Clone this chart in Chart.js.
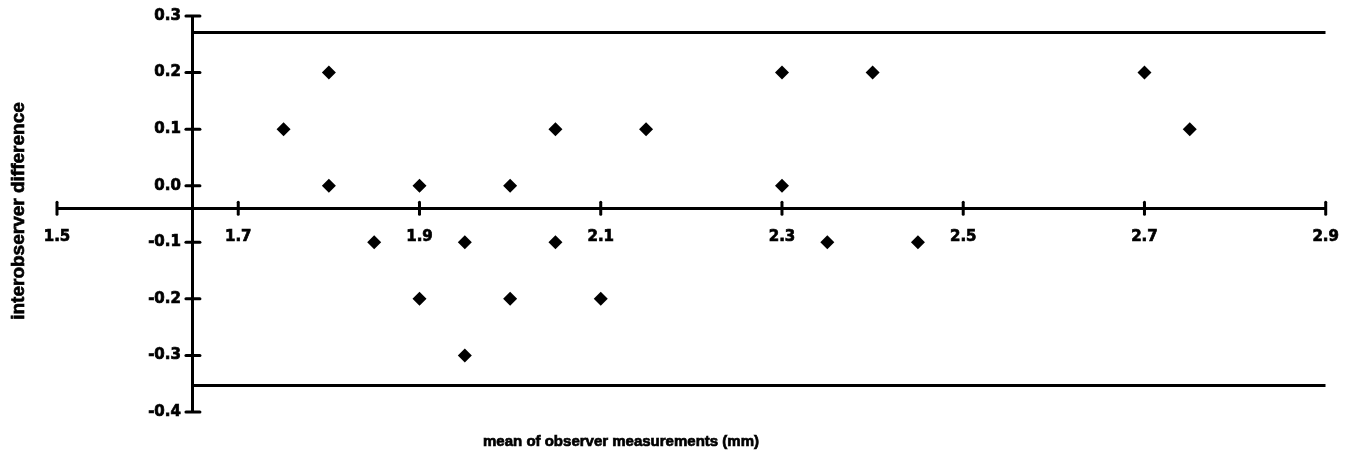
<!DOCTYPE html>
<html>
<head>
<meta charset="utf-8">
<script src="https://cdn.jsdelivr.net/npm/chart.js@4.4.1/dist/chart.umd.min.js"></script>
<style>
  html, body { margin: 0; padding: 0; background: #fff; }
  #wrap { width: 1359px; height: 462px; }
</style>
</head>
<body>
<div id="wrap"><canvas id="chart"></canvas></div>
<script>
// mean of the two observers (x) and their difference (y)
const meanVals = [1.75, 1.8, 1.8, 1.85, 1.9, 1.9, 1.95, 1.95, 2.0, 2.0, 2.05, 2.05, 2.1, 2.15, 2.3, 2.3, 2.35, 2.4, 2.45, 2.7, 2.75];
const diffVals = [0.1, 0.2, 0.0, -0.1, 0.0, -0.2, -0.1, -0.3, 0.0, -0.2, 0.1, -0.1, -0.2, 0.1, 0.2, 0.0, -0.1, 0.2, -0.1, 0.2, 0.1];

// limits of agreement
const limitX = [1.65, 2.9];
const upperLimit = [0.271, 0.271];
const lowerLimit = [-0.353, -0.353];

// axis ranges / crossing points
const xRange = [1.5, 2.9];
const yRange = [-0.4, 0.3];
const xStep = 0.2;
const yStep = 0.1;
const yAxisAtX = 1.65;
const xAxisAtY = -0.04;

const xTitle = "mean of observer measurements (mm)";
const yTitle = "interobserver difference";

const tickFont = { family: "DejaVu Sans", size: 15, weight: "bold" };

const points = meanVals.map((x, i) => ({ x, y: diffVals[i] }));
const upper = limitX.map((x, i) => ({ x, y: upperLimit[i] }));
const lower = limitX.map((x, i) => ({ x, y: lowerLimit[i] }));

const fmt = v => (Math.abs(v) < 1e-9 ? 0 : v).toFixed(1);

// crossing tick marks, y tick labels and axis titles
const axisExtras = {
  id: "axisExtras",
  afterDraw(chart) {
    const ctx = chart.ctx;
    const xs = chart.scales.x, ys = chart.scales.y;
    const xAxisPx = ys.getPixelForValue(xAxisAtY);
    const yAxisPx = xs.getPixelForValue(yAxisAtX);
    ctx.save();
    ctx.strokeStyle = "#000";
    ctx.lineWidth = 3;
    ctx.lineCap = "round";
    xs.ticks.forEach(t => {
      const px = xs.getPixelForValue(t.value);
      ctx.beginPath();
      ctx.moveTo(px, xAxisPx - 6);
      ctx.lineTo(px, xAxisPx + 6);
      ctx.stroke();
    });
    ys.ticks.forEach(t => {
      const py = ys.getPixelForValue(t.value);
      ctx.beginPath();
      ctx.moveTo(yAxisPx - 7, py);
      ctx.lineTo(yAxisPx + 7, py);
      ctx.stroke();
    });

    ctx.fillStyle = "#000";
    ctx.lineWidth = 0.7;
    ctx.lineCap = "butt";
    ctx.font = `${tickFont.weight} ${tickFont.size}px '${tickFont.family}'`;
    ctx.textAlign = "right";
    ctx.textBaseline = "middle";
    ys.ticks.forEach(t => {
      const py = ys.getPixelForValue(t.value);
      ctx.fillText(fmt(t.value), yAxisPx - 12, py);
      ctx.strokeText(fmt(t.value), yAxisPx - 12, py);
    });

    ctx.font = "bold 15px 'Liberation Sans'";
    ctx.textAlign = "center";
    ctx.fillText(xTitle, 621, 442);
    ctx.strokeText(xTitle, 621, 442);
    ctx.font = "bold 19px 'Liberation Sans'";
    ctx.translate(19, 211);
    ctx.rotate(-Math.PI / 2);
    ctx.fillText(yTitle, 0, 0);
    ctx.strokeText(yTitle, 0, 0);
    ctx.restore();
  }
};

new Chart(document.getElementById("chart"), {
  type: "scatter",
  data: {
    datasets: [
      {
        label: "difference",
        data: points,
        pointStyle: "rectRot",
        pointRadius: 7,
        backgroundColor: "#000",
        borderWidth: 0
      },
      {
        label: "upper limit",
        data: upper,
        showLine: true,
        pointRadius: 0,
        borderColor: "#000",
        borderWidth: 3
      },
      {
        label: "lower limit",
        data: lower,
        showLine: true,
        pointRadius: 0,
        borderColor: "#000",
        borderWidth: 3
      }
    ]
  },
  options: {
    responsive: true,
    maintainAspectRatio: false,
    animation: false,
    layout: { padding: { left: 57, right: 27, top: 16, bottom: 50 } },
    plugins: { legend: { display: false }, tooltip: { enabled: false } },
    scales: {
      x: {
        type: "linear",
        min: xRange[0],
        max: xRange[1],
        position: { y: xAxisAtY },
        afterFit: s => { s.height = 0; },
        grid: { display: false, drawTicks: false },
        border: { display: true, color: "#000", width: 3 },
        ticks: {
          stepSize: xStep,
          color: "#000",
          font: tickFont,
          textStrokeColor: "#000",
          textStrokeWidth: 0.7,
          padding: 20,
          maxRotation: 0,
          autoSkip: false,
          callback: fmt
        }
      },
      y: {
        type: "linear",
        min: yRange[0],
        max: yRange[1],
        position: { x: yAxisAtX },
        afterFit: s => { s.width = 0; },
        grid: { display: false, drawTicks: false },
        border: { display: true, color: "#000", width: 3 },
        ticks: { stepSize: yStep, display: false }
      }
    }
  },
  plugins: [axisExtras]
});
</script>
</body>
</html>
